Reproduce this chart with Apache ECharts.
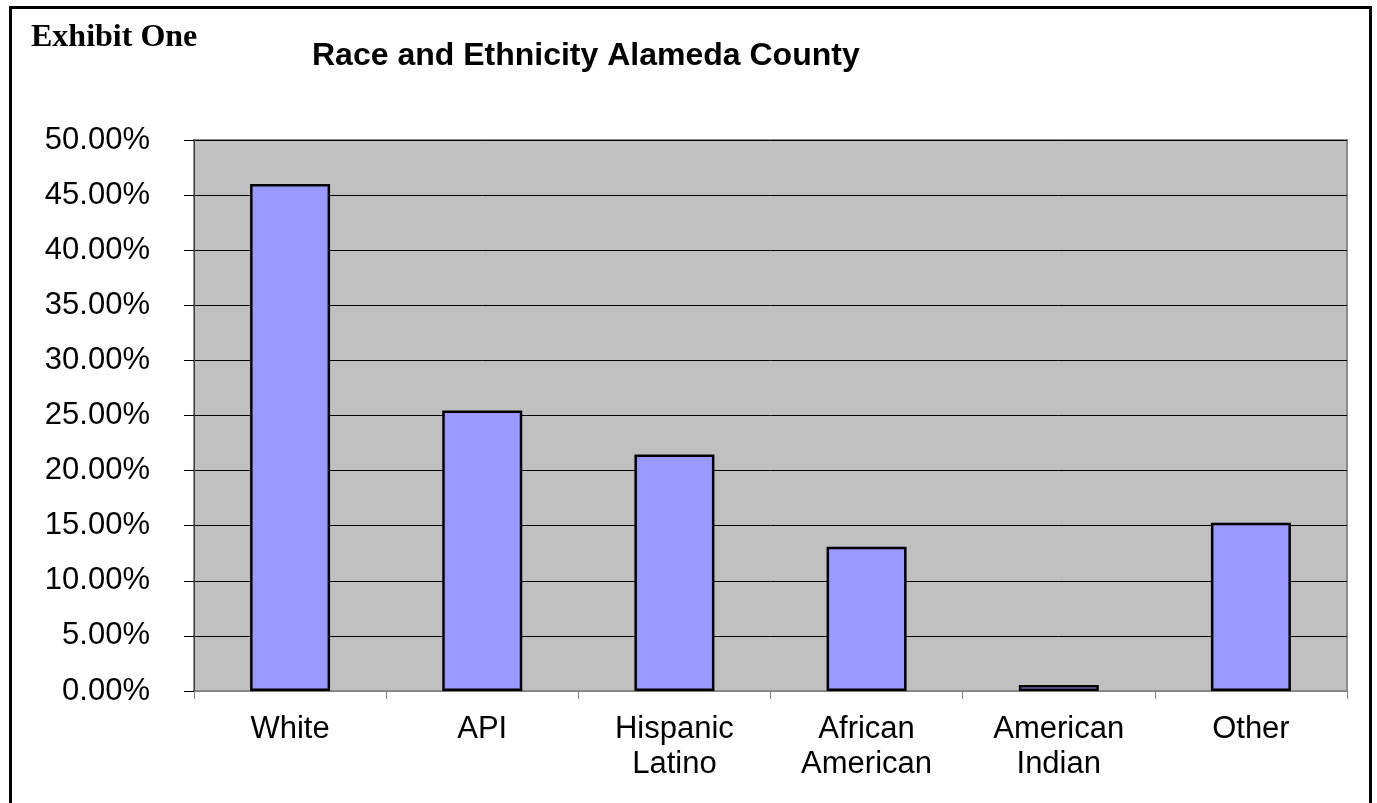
<!DOCTYPE html>
<html>
<head>
<meta charset="utf-8">
<script src="https://cdn.jsdelivr.net/npm/echarts@6/dist/echarts.min.js"></script>
<style>
  html, body { margin: 0; padding: 0; background: #fff; }
  #chart { position: absolute; left: 0; top: 0; width: 1377px; height: 803px; }
  .frame { position: absolute; left: 9px; top: 6px; width: 1363px; height: 820px;
           border: 3px solid #000; box-sizing: border-box; pointer-events: none; }
</style>
</head>
<body>
<div id="chart"></div>
<div class="frame"></div>
<script>
// data
var categories = ["White", "API", "Hispanic\nLatino", "African\nAmerican", "American\nIndian", "Other"];
var shares = [46.0, 25.45, 21.45, 13.1, 0.55, 15.27];
var yTicks = [0, 5, 10, 15, 20, 25, 30, 35, 40, 45, 50];

var myChart = echarts.init(document.getElementById("chart"));

var opt = {
  animation: false,
  textStyle: { fontFamily: "Liberation Sans, Arial, sans-serif" },
  graphic: [
    {
      type: "text",
      x: 31,
      y: 38,
      style: {
        text: "Exhibit One",
        font: "bold 32px 'Liberation Serif', 'Times New Roman', serif",
        fill: "#000",
        verticalAlign: "middle"
      }
    },
    {
      type: "text",
      x: 312,
      y: 56,
      style: {
        text: "Race and Ethnicity Alameda County",
        font: "bold 32px 'Liberation Sans', Arial, sans-serif",
        fill: "#000",
        verticalAlign: "middle"
      }
    }
  ],
  grid: {
    left: 194,
    right: 30,
    top: 140,
    bottom: 112,
    show: true,
    backgroundColor: "#c0c0c0",
    borderColor: "#8c8c8c",
    borderWidth: 2
  },
  xAxis: {
    type: "category",
    data: categories,
    axisLine: { show: true, lineStyle: { color: "#808080", width: 1 } },
    axisTick: { show: true, length: 8, alignWithLabel: false, lineStyle: { color: "#808080" } },
    axisLabel: {
      margin: 21,
      fontSize: 31,
      lineHeight: 35,
      color: "#000",
      interval: 0
    }
  },
  yAxis: {
    type: "value",
    min: yTicks[0],
    max: yTicks[yTicks.length - 1],
    interval: 5,
    axisLine: { show: true, lineStyle: { color: "#404040", width: 1 } },
    axisTick: { show: true, length: 10, lineStyle: { color: "#000" } },
    splitLine: { show: true, lineStyle: { color: "#000", width: 1 } },
    axisLabel: {
      margin: 44,
      fontSize: 31,
      color: "#000",
      formatter: function (v) { return v.toFixed(2) + "%"; }
    }
  },
  series: [
    {
      type: "bar",
      data: shares,
      barWidth: 80,
      itemStyle: {
        color: "#9999ff",
        borderColor: "#000",
        borderWidth: 2.5
      }
    }
  ]
};

myChart.setOption(opt);
</script>
</body>
</html>
